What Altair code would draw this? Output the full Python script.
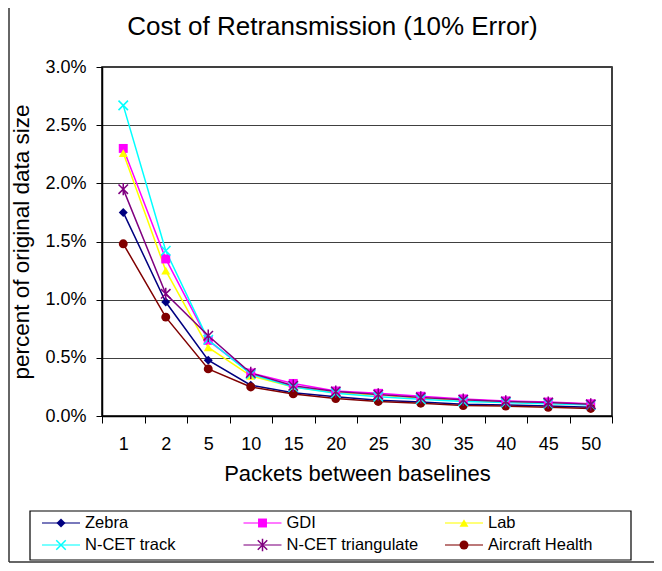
import altair as alt
import pandas as pd

FONT = "Liberation Sans"

title_text = "Cost of Retransmission (10% Error)"
packets = ["1", "2", "5", "10", "15", "20", "25", "30", "35", "40", "45", "50"]
series = ["Zebra", "GDI", "Lab", "N-CET track", "N-CET triangulate", "Aircraft Health"]
colors = ["#000080", "#FF00FF", "#FFFF00", "#00FFFF", "#800080", "#800000"]

# values in percent of original data size
zebra = [1.75, 0.98, 0.48, 0.265, 0.20, 0.165, 0.135, 0.12, 0.10, 0.095, 0.085, 0.075]
gdi = [2.30, 1.35, 0.65, 0.37, 0.28, 0.215, 0.195, 0.17, 0.147, 0.13, 0.12, 0.105]
lab = [2.26, 1.25, 0.59, 0.345, 0.25, 0.20, 0.18, 0.155, 0.135, 0.12, 0.11, 0.10]
ncet_track = [2.67, 1.42, 0.655, 0.36, 0.25, 0.195, 0.165, 0.145, 0.125, 0.115, 0.105, 0.095]
ncet_tri = [1.95, 1.05, 0.69, 0.37, 0.26, 0.21, 0.185, 0.16, 0.14, 0.125, 0.115, 0.10]
aircraft = [1.48, 0.85, 0.405, 0.25, 0.19, 0.15, 0.125, 0.11, 0.09, 0.085, 0.075, 0.065]

y_ticks = [0.0, 0.005, 0.01, 0.015, 0.02, 0.025, 0.03]

legend_col = [0, 1, 2, 0, 1, 2]
legend_row = [0, 0, 0, 1, 1, 1]

values = {
    "Zebra": zebra,
    "GDI": gdi,
    "Lab": lab,
    "N-CET track": ncet_track,
    "N-CET triangulate": ncet_tri,
    "Aircraft Health": aircraft,
}
rows = []
for s in series:
    for p, v in zip(packets, values[s]):
        rows.append({"packets": p, "series": s, "value": v / 100.0})
df = pd.DataFrame(rows)
leg = pd.DataFrame({"series": series, "col": legend_col, "row": legend_row})

CROSS = "M-1,-1L1,1M-1,1L1,-1"
STAR = "M-1,-1L1,1M-1,1L1,-1M0,-1.3L0,1.3"
shapes = ["diamond", "square", "triangle-up", CROSS, STAR, "circle"]
filled_series = ["Zebra", "GDI", "Lab", "Aircraft Health"]
stroked_series = ["N-CET track", "N-CET triangulate"]

color_scale = alt.Scale(domain=series, range=colors)
shape_scale = alt.Scale(domain=series, range=shapes)

x_enc = alt.X(
    "packets:O",
    sort=packets,
    scale=alt.Scale(type="band", paddingInner=0, paddingOuter=0),
    axis=alt.Axis(
        title="Packets between baselines",
        labelAngle=0,
        tickBand="extent",
        tickSize=7,
        labelPadding=12,
        titlePadding=10,
        grid=False,
        labelFontSize=18,
        titleFontSize=22,
    ),
)
y_enc = alt.Y(
    "value:Q",
    scale=alt.Scale(domain=[0, 0.03], nice=False),
    axis=alt.Axis(
        title="percent of original data size",
        format=".1%",
        values=y_ticks,
        tickSize=6,
        labelPadding=10,
        titlePadding=11,
        grid=True,
        labelFontSize=18,
        titleFontSize=22.5,
    ),
)
color_enc = alt.Color("series:N", scale=color_scale, legend=None)
shape_enc = alt.Shape("series:N", scale=shape_scale, legend=None)

base = alt.Chart(df)
lines = base.mark_line(strokeWidth=1.5).encode(x=x_enc, y=y_enc, color=color_enc)
pts_filled = (
    base.transform_filter(alt.FieldOneOfPredicate(field="series", oneOf=filled_series))
    .mark_point(filled=True, size=80, opacity=1)
    .encode(x=x_enc, y=y_enc, color=color_enc, shape=shape_enc)
)
pts_stroked = (
    base.transform_filter(alt.FieldOneOfPredicate(field="series", oneOf=stroked_series))
    .mark_point(filled=False, size=90, strokeWidth=1.5, opacity=1)
    .encode(x=x_enc, y=y_enc, color=color_enc, shape=shape_enc)
)
main = alt.layer(lines, pts_filled, pts_stroked)

# legend drawn from the series table
lx = alt.X("col:Q", scale=alt.Scale(domain=[0, 2], range=[-41, 362]), axis=None)
ly = alt.Y("row:Q", scale=alt.Scale(domain=[0, 1], range=[456, 478]), axis=None)
lbase = alt.Chart(leg)
l_line = lbase.mark_tick(orient="horizontal", size=38, thickness=1.5).encode(x=lx, y=ly, color=color_enc)
l_filled = (
    lbase.transform_filter(alt.FieldOneOfPredicate(field="series", oneOf=filled_series))
    .mark_point(filled=True, size=80, opacity=1)
    .encode(x=lx, y=ly, color=color_enc, shape=shape_enc)
)
l_stroked = (
    lbase.transform_filter(alt.FieldOneOfPredicate(field="series", oneOf=stroked_series))
    .mark_point(filled=False, size=90, strokeWidth=1.5, opacity=1)
    .encode(x=lx, y=ly, color=color_enc, shape=shape_enc)
)
l_text = lbase.mark_text(align="left", baseline="middle", dx=24, fontSize=16.5, font=FONT, color="black").encode(
    x=lx, y=ly, text="series:N"
)
legend = alt.layer(l_line, l_filled, l_stroked, l_text)

# decorations: title, legend box and outer frame
one = pd.DataFrame({"title": [title_text]})
title = alt.Chart(one).mark_text(
    align="center", baseline="alphabetic", fontSize=26, font=FONT, color="black"
).encode(x=alt.value(230.5), y=alt.value(-32), text="title:N")
legend_box = alt.Chart(one).mark_rect(fill=None, stroke="black", strokeWidth=1.2).encode(
    x=alt.value(-72), x2=alt.value(529), y=alt.value(444), y2=alt.value(493)
)
frame_left = alt.Chart(one).mark_rule(color="#333333", strokeWidth=1.5).encode(
    x=alt.value(-93), y=alt.value(-59), y2=alt.value(495)
)
frame_bottom = alt.Chart(one).mark_rule(color="#333333", strokeWidth=1.5).encode(
    x=alt.value(-93), x2=alt.value(560), y=alt.value(495)
)

chart = (
    alt.layer(main, legend, title, legend_box, frame_left, frame_bottom)
    .resolve_scale(x="independent", y="independent")
    .properties(
        width=510,
        height=349,
        padding={"left": 94, "top": 59, "right": 42, "bottom": 147},
        autosize=alt.AutoSizeParams(type="none"),
    )
    .configure_view(stroke="black", strokeWidth=1.5)
    .configure_axis(
        labelFont=FONT,
        titleFont=FONT,
        labelColor="black",
        titleColor="black",
        titleFontWeight="normal",
        domainColor="black",
        domainWidth=1.5,
        tickColor="black",
        tickWidth=1,
        gridColor="#404040",
        gridWidth=1,
        gridOpacity=1,
    )
)

chart.save("out.html", embed_options={"renderer": "svg", "actions": False})
